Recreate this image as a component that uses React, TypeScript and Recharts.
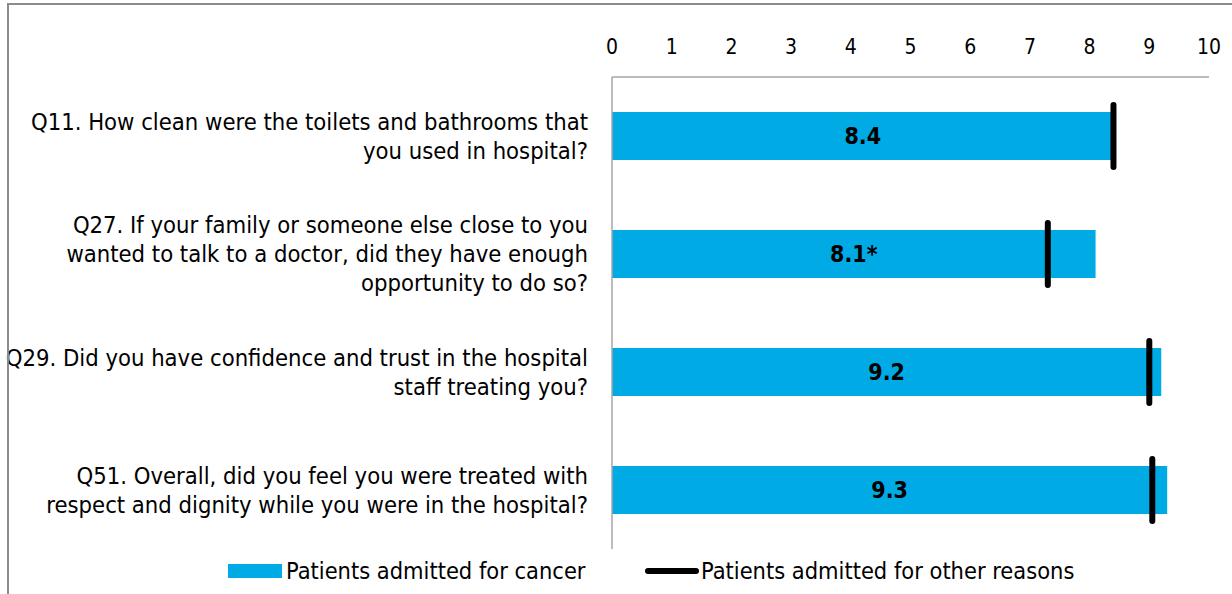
import { ComposedChart, Bar, XAxis, YAxis, LabelList } from 'recharts';

const questions = [
  'Q11. How clean were the toilets and bathrooms that\nyou used in hospital?',
  'Q27. If your family or someone else close to you\nwanted to talk to a doctor, did they have enough\nopportunity to do so?',
  'Q29. Did you have confidence and trust in the hospital\nstaff treating you?',
  'Q51. Overall, did you feel you were treated with\nrespect and dignity while you were in the hospital?',
];
const cancerScores = [8.4, 8.1, 9.2, 9.3];
const otherScores = [8.4, 7.3, 9.0, 9.05];
const significant = [false, true, false, false];
const xTicks = [0, 1, 2, 3, 4, 5, 6, 7, 8, 9, 10];

const FONT = '"DejaVu Sans Condensed", "DejaVu Sans", sans-serif';
const BLUE = '#00AAE4';
const GREY = '#A6A6A6';

const data = questions.map((q, i) => ({
  name: q,
  cancer: cancerScores[i],
  other: otherScores[i],
}));

function QuestionTick(props: any) {
  const { x, y, payload } = props;
  const lines = String(payload.value).split('\n');
  const lh = 29;
  const startY = y - ((lines.length - 1) * lh) / 2;
  return (
    <text x={x - 22} y={startY} textAnchor="end" fontFamily={FONT} fontSize={23.6} fill="#000" dominantBaseline="central">
      {lines.map((l, i) => (
        <tspan key={i} x={x - 22} y={startY + i * lh}>
          {l}
        </tspan>
      ))}
    </text>
  );
}

function MarkerShape(props: any) {
  const { x, y, width, height } = props;
  const xe = x + width;
  return <line x1={xe} x2={xe} y1={y - 7} y2={y + height + 7} stroke="#000" strokeWidth={6} strokeLinecap="round" />;
}

export default function App() {
  return (
    <div style={{ position: 'absolute', left: 0, top: 0, width: 1232, height: 594, overflow: 'hidden', background: '#fff' }}>
      <div style={{ position: 'absolute', left: 0, top: 0 }}>
        <ComposedChart
          width={1232}
          height={594}
          data={data}
          layout="vertical"
          margin={{ top: 0, right: 23, bottom: 45, left: 0 }}
          barCategoryGap={70}
        >
          <XAxis
            type="number"
            orientation="top"
            domain={[0, 10]}
            ticks={xTicks}
            height={77}
            axisLine={{ stroke: GREY, strokeWidth: 1.5 }}
            tickLine={false}
            tickSize={0}
            tickMargin={23}
            tick={{ fill: '#000', fontSize: 21, fontFamily: FONT }}
            interval={0}
          />
          <YAxis
            type="category"
            dataKey="name"
            width={612}
            axisLine={{ stroke: GREY, strokeWidth: 1.5 }}
            tickLine={false}
            tickSize={0}
            tick={<QuestionTick />}
            interval={0}
          />
          <YAxis yAxisId="marker" type="category" dataKey="name" hide />
          <Bar dataKey="cancer" fill={BLUE} barSize={48} isAnimationActive={false}>
            <LabelList
              dataKey="cancer"
              position="center"
              content={(p: any) => {
                const { x, y, width, height, value, index } = p;
                const txt = Number(value).toFixed(1) + (significant[index] ? '*' : '');
                return (
                  <text x={x + width / 2} y={y + height / 2} textAnchor="middle" dominantBaseline="central" fontFamily={FONT} fontSize={23} fontWeight="bold" fill="#000">
                    {txt}
                  </text>
                );
              }}
            />
          </Bar>
          <Bar dataKey="other" yAxisId="marker" barSize={48} shape={<MarkerShape />} isAnimationActive={false} />
        </ComposedChart>
      </div>
      <div style={{ position: 'absolute', left: 7, top: 3, width: 1240, height: 2, background: '#8C8C8C', zIndex: 5 }} />
      <div style={{ position: 'absolute', left: 7, top: 3, width: 2, height: 600, background: '#8C8C8C', zIndex: 5 }} />
      <div style={{ position: 'absolute', top: 557, left: 228, display: 'flex', alignItems: 'center', fontFamily: FONT, fontSize: 23.4, color: '#000', whiteSpace: 'nowrap' }}>
        <span style={{ display: 'inline-block', width: 54, height: 14, background: BLUE, marginRight: 4 }} />
        <span style={{ width: 359 }}>Patients admitted for cancer</span>
        <span style={{ display: 'inline-block', width: 54, height: 6, background: '#000', borderRadius: 3, marginRight: 2 }} />
        <span>Patients admitted for other reasons</span>
      </div>
    </div>
  );
}
